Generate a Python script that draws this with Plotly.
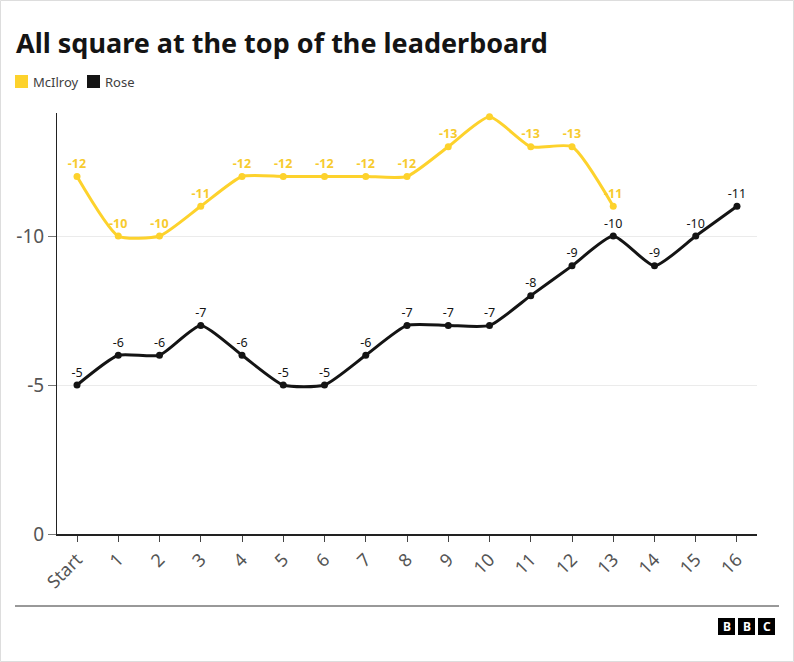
import plotly.graph_objects as go

holes = ["Start", "1", "2", "3", "4", "5", "6", "7", "8", "9", "10", "11", "12", "13", "14", "15", "16"]
mcilroy = [12, 10, 10, 11, 12, 12, 12, 12, 12, 13, 14, 13, 13, 11]
rose = [5, 6, 6, 7, 6, 5, 5, 6, 7, 7, 7, 8, 9, 10, 9, 10, 11]
mcilroy_labels = ["-%d" % v for v in mcilroy]
mcilroy_labels[10] = ""
rose_labels = ["-%d" % v for v in rose]

YELLOW = "#FDD22C"
BLACK = "#141414"
W, H = 794, 662
L, R, T, B = 57, 757, 113, 534


def px(x):
    return (x - L) / (R - L)


def py(y):
    return (B - y) / (B - T)


fig = go.Figure()
fig.add_trace(go.Scatter(
    x=list(range(len(mcilroy))), y=mcilroy, mode="lines+markers+text",
    text=mcilroy_labels, textposition="top center",
    textfont=dict(family="Noto Sans", size=12.5, color="#F7CB2E", weight="bold"),
    line=dict(color=YELLOW, width=3, shape="spline", smoothing=0.55),
    marker=dict(color=YELLOW, size=7), showlegend=False, cliponaxis=False,
))
fig.add_trace(go.Scatter(
    x=list(range(len(rose))), y=rose, mode="lines+markers+text",
    text=rose_labels, textposition="top center",
    textfont=dict(family="Noto Sans", size=12.5, color=BLACK),
    line=dict(color=BLACK, width=3, shape="spline", smoothing=0.55),
    marker=dict(color=BLACK, size=7), showlegend=False, cliponaxis=False,
))

shapes = [
    # page border
    dict(type="rect", xref="paper", yref="paper", x0=px(0.5), x1=px(W - 0.5), y0=py(0.5), y1=py(H - 0.5),
         line=dict(color="#dddddd", width=1), fillcolor="rgba(0,0,0,0)", layer="below"),
    # legend squares
    dict(type="rect", xref="paper", yref="paper", x0=px(15), x1=px(28), y0=py(75), y1=py(88),
         line=dict(width=0), fillcolor=YELLOW),
    dict(type="rect", xref="paper", yref="paper", x0=px(87), x1=px(100), y0=py(75), y1=py(88),
         line=dict(width=0), fillcolor=BLACK),
    # bottom rule
    dict(type="line", xref="paper", yref="paper", x0=px(15), x1=px(779), y0=py(606), y1=py(606),
         line=dict(color="#333333", width=1)),
]
annotations = [
    dict(text="<b>All square at the top of the leaderboard</b>", xref="paper", yref="paper",
         x=px(14), y=py(42), xanchor="left", yanchor="middle", showarrow=False,
         font=dict(family="Noto Sans", size=27, color="#141414")),
    dict(text="McIlroy", xref="paper", yref="paper", x=px(31), y=py(81.5), xanchor="left", yanchor="middle",
         showarrow=False, font=dict(family="Noto Sans", size=13, color="#404040")),
    dict(text="Rose", xref="paper", yref="paper", x=px(103), y=py(81.5), xanchor="left", yanchor="middle",
         showarrow=False, font=dict(family="Noto Sans", size=13, color="#404040")),
]
for i, letter in enumerate(["B", "B", "C"]):
    x0 = 718 + i * 20
    shapes.append(dict(type="rect", xref="paper", yref="paper", x0=px(x0), x1=px(x0 + 17),
                       y0=py(618), y1=py(635), line=dict(width=0), fillcolor="#000000"))
    annotations.append(dict(text="<b>%s</b>" % letter, xref="paper", yref="paper", x=px(x0 + 8.5), y=py(626.5),
                            xanchor="center", yanchor="middle", showarrow=False,
                            font=dict(family="Noto Sans", size=12, color="#ffffff")))

fig.update_layout(
    width=W, height=H, autosize=False,
    margin=dict(l=L, r=W - R, t=T, b=H - B, pad=0),
    paper_bgcolor="white", plot_bgcolor="white",
    shapes=shapes, annotations=annotations, showlegend=False,
    font=dict(family="Noto Sans"),
)
fig.update_xaxes(
    range=[-0.485, 16.485], tickmode="array", tickvals=list(range(len(holes))), ticktext=holes,
    tickangle=-45, tickfont=dict(size=18, color="#555555"),
    showline=True, linecolor="#222222", linewidth=2, ticks="outside", ticklen=6, tickcolor="#444444",
    showgrid=False, zeroline=False, fixedrange=True,
)
fig.update_yaxes(
    range=[0, 14.13], tickmode="array", tickvals=[0, 5, 10], ticktext=["0", "-5", "-10"],
    tickfont=dict(size=19, color="#555555"),
    showline=True, linecolor="#222222", linewidth=1, ticks="outside", ticklen=8, tickcolor="#777777",
    showgrid=True, gridcolor="#ebebeb", gridwidth=1, zeroline=False, fixedrange=True,
)

fig.write_html("out.html", config={"displayModeBar": False},
               post_script="document.body.style.margin='0';document.body.style.overflow='hidden';")
